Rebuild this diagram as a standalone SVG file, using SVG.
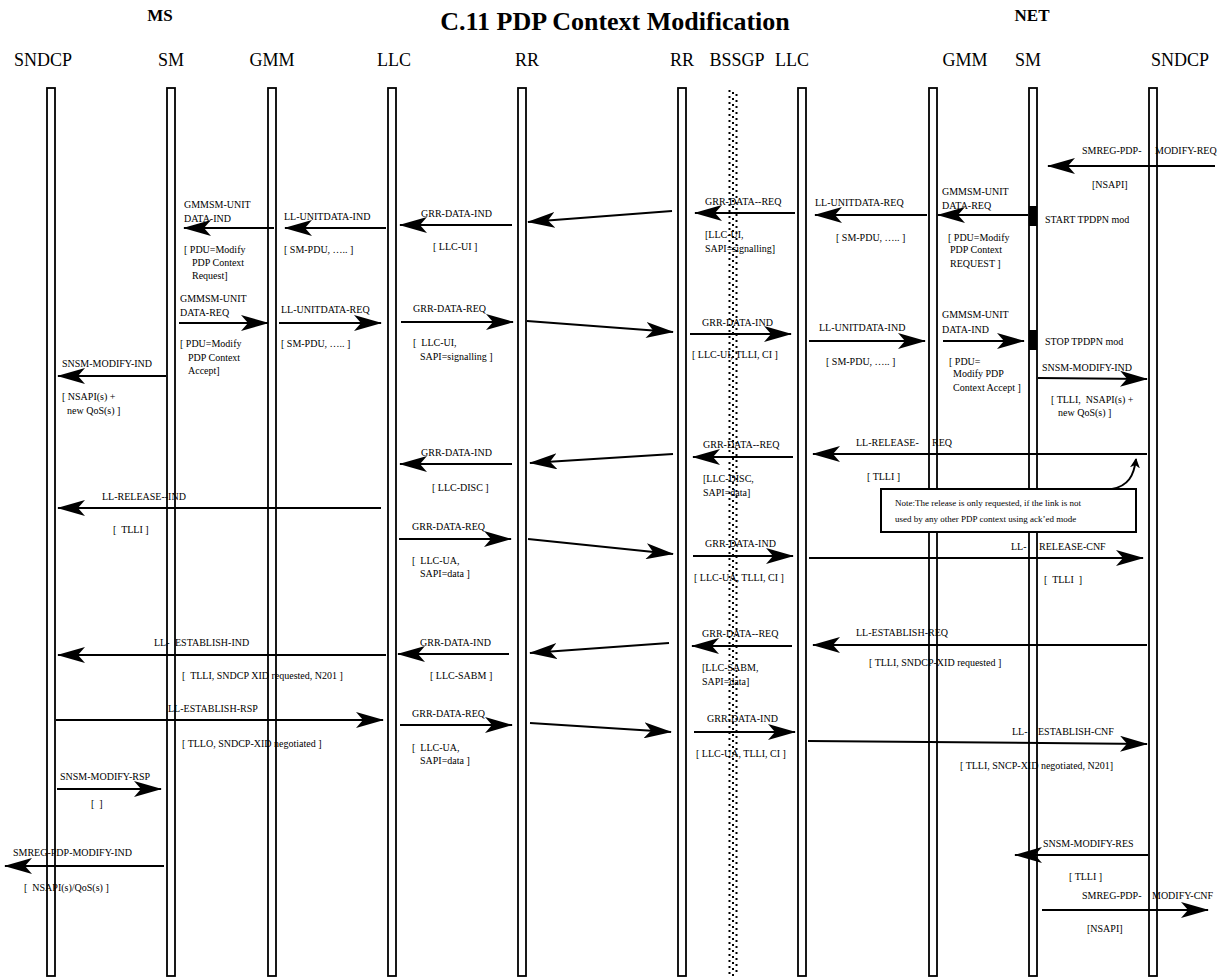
<svg xmlns="http://www.w3.org/2000/svg" width="1227" height="978" viewBox="0 0 1227 978">
<defs>
<marker id="ah" markerUnits="userSpaceOnUse" markerWidth="28" markerHeight="16" viewBox="0 0 28 16" refX="27" refY="8" orient="auto">
<path d="M28,8 L0,0 L7,8 L0,16 Z" fill="#000"/>
</marker>
<marker id="ahs" markerUnits="userSpaceOnUse" markerWidth="10" markerHeight="10" viewBox="0 0 10 10" refX="9" refY="5" orient="auto">
<path d="M10,5 L0,0 L3,5 L0,10 Z" fill="#000"/>
</marker>
<style>
.ll{fill:none;stroke:#000;stroke-width:1.8}
.hd{font-family:"Liberation Serif","Times New Roman",serif;font-size:18px;fill:#000;text-anchor:middle}
.tt{font-family:"Liberation Serif","Times New Roman",serif;font-weight:bold;fill:#000;text-anchor:middle}
.lb{font-family:"Liberation Serif","Times New Roman",serif;font-size:10px;fill:#000}
.nt{font-family:"Liberation Serif","Times New Roman",serif;font-size:9px;fill:#000}
.m{stroke:#000;stroke-width:2;fill:none;marker-end:url(#ah)}
.dot{stroke:#000;stroke-width:2;stroke-dasharray:2 4;fill:none}
</style>
</defs>
<rect x="0" y="0" width="1227" height="978" fill="#fff"/>
<text class="tt" x="615" y="30" font-size="26">C.11 PDP Context Modification</text>
<text class="tt" x="160" y="21" font-size="17">MS</text>
<text class="tt" x="1032" y="21" font-size="17">NET</text>

<g id="ms-sndcp"><text class="hd" x="43" y="66">SNDCP</text><rect class="ll" x="47" y="88" width="8" height="888"/></g>
<g id="ms-sm"><text class="hd" x="171" y="66">SM</text><rect class="ll" x="167" y="88" width="8" height="888"/></g>
<g id="ms-gmm"><text class="hd" x="272" y="66">GMM</text><rect class="ll" x="268" y="88" width="8" height="888"/></g>
<g id="ms-llc"><text class="hd" x="394" y="66">LLC</text><rect class="ll" x="388" y="88" width="8" height="888"/></g>
<g id="ms-rr"><text class="hd" x="527" y="66">RR</text><rect class="ll" x="518" y="88" width="8" height="888"/></g>
<g id="net-rr"><text class="hd" x="682" y="66">RR</text><rect class="ll" x="678" y="88" width="8" height="888"/></g>
<g id="net-bssgp"><text class="hd" x="737" y="66">BSSGP</text><line class="dot" x1="729.5" y1="90" x2="729.5" y2="976"/><line class="dot" x1="733" y1="92" x2="733" y2="976"/><line class="dot" x1="736.5" y1="94" x2="736.5" y2="976"/></g>
<g id="net-llc"><text class="hd" x="792" y="66">LLC</text><rect class="ll" x="798" y="88" width="8" height="888"/></g>
<g id="net-gmm"><text class="hd" x="965" y="66">GMM</text><rect class="ll" x="929" y="88" width="8" height="888"/></g>
<g id="net-sm"><text class="hd" x="1028" y="66">SM</text><rect class="ll" x="1029" y="88" width="8" height="888"/>
<rect x="1029" y="206" width="8" height="20" fill="#000"/><rect x="1029" y="330" width="8" height="20" fill="#000"/></g>
<g id="net-sndcp"><text class="hd" x="1180" y="66">SNDCP</text><rect class="ll" x="1149" y="88" width="8" height="888"/></g>

<g id="connectors">
<line class="m" x1="1215" y1="166" x2="1048" y2="166"/>
<line class="m" x1="1028" y1="215" x2="938" y2="215"/>
<line class="m" x1="927" y1="215" x2="815" y2="215"/>
<line class="m" x1="795" y1="213" x2="695" y2="213"/>
<line class="m" x1="672" y1="211" x2="528" y2="222"/>
<line class="m" x1="512" y1="225" x2="400" y2="225"/>
<line class="m" x1="386" y1="228" x2="285" y2="228"/>
<line class="m" x1="274" y1="228" x2="184" y2="228"/>
<line class="m" x1="179" y1="323" x2="268" y2="323"/>
<line class="m" x1="279" y1="323" x2="381" y2="323"/>
<line class="m" x1="401" y1="322" x2="513" y2="322"/>
<line class="m" x1="527" y1="321" x2="673" y2="332"/>
<line class="m" x1="690" y1="334" x2="791" y2="334"/>
<line class="m" x1="809" y1="341" x2="925" y2="341"/>
<line class="m" x1="943" y1="341" x2="1024" y2="341"/>
<line class="m" x1="1038" y1="378" x2="1147" y2="379"/>
<line class="m" x1="166" y1="376" x2="58" y2="376"/>
<line class="m" x1="1147" y1="454" x2="813" y2="454"/>
<line class="m" x1="793" y1="457" x2="693" y2="457"/>
<line class="m" x1="673" y1="454" x2="530" y2="463"/>
<line class="m" x1="512" y1="464" x2="400" y2="464"/>
<line class="m" x1="381" y1="508" x2="58" y2="508"/>
<line class="m" x1="399" y1="539" x2="511" y2="539"/>
<line class="m" x1="528" y1="539" x2="673" y2="554"/>
<line class="m" x1="693" y1="556" x2="793" y2="556"/>
<line class="m" x1="809" y1="558" x2="1143" y2="558"/>
<line class="m" x1="1147" y1="645" x2="813" y2="645"/>
<line class="m" x1="792" y1="646" x2="692" y2="646"/>
<line class="m" x1="669" y1="643" x2="530" y2="653"/>
<line class="m" x1="509" y1="654" x2="398" y2="654"/>
<line class="m" x1="386" y1="655" x2="58" y2="655"/>
<line class="m" x1="56" y1="720" x2="383" y2="720"/>
<line class="m" x1="400" y1="725" x2="512" y2="725"/>
<line class="m" x1="530" y1="723" x2="671" y2="732"/>
<line class="m" x1="694" y1="732" x2="795" y2="732"/>
<line class="m" x1="808" y1="741" x2="1147" y2="744"/>
<line class="m" x1="57" y1="789" x2="161" y2="789"/>
<line class="m" x1="1148" y1="855" x2="1015" y2="855"/>
<line class="m" x1="164" y1="866" x2="5" y2="866"/>
<line class="m" x1="1042" y1="910" x2="1208" y2="910"/>
<path d="M1112,489 C1128,486 1134,476 1136,459" fill="none" stroke="#000" stroke-width="2" marker-end="url(#ahs)"/>
</g>

<g id="note">
<rect x="881" y="489" width="255" height="43" fill="#fff" stroke="#000" stroke-width="2"/>
<text class="nt" x="895" y="506">Note:The release is only requested, if the link is not</text>
<text class="nt" x="895" y="522">used by any other PDP context using ack’ed mode</text>
</g>

<g id="labels" class="lb">
<text x="184" y="208">GMMSM-UNIT</text><text x="184" y="222">DATA-IND</text>
<text x="284" y="220">LL-UNITDATA-IND</text>
<text x="284" y="253">[ SM-PDU, ….. ]</text>
<text x="184" y="253">[ PDU=Modify</text><text x="192" y="266">PDP Context</text><text x="192" y="279">Request]</text>
<text x="180" y="302">GMMSM-UNIT</text><text x="180" y="316">DATA-REQ</text>
<text x="281" y="313">LL-UNITDATA-REQ</text>
<text x="281" y="347">[ SM-PDU, ….. ]</text>
<text x="180" y="347">[ PDU=Modify</text><text x="188" y="361">PDP Context</text><text x="188" y="374">Accept]</text>
<text x="62" y="367">SNSM-MODIFY-IND</text>
<text x="62" y="400">[ NSAPI(s) +</text><text x="67" y="414">new QoS(s) ]</text>

<text x="421" y="217">GRR-DATA-IND</text>
<text x="433" y="250">[ LLC-UI ]</text>
<text x="705" y="205">GRR-DATA--REQ</text>
<text x="705" y="238">[LLC-UI,</text><text x="705" y="252">SAPI=signalling]</text>
<text x="413" y="312">GRR-DATA-REQ</text>
<text x="413" y="346" xml:space="preserve">[  LLC-UI,</text><text x="420" y="360">SAPI=signalling ]</text>
<text x="702" y="326">GRR-DATA-IND</text>
<text x="692" y="358">[ LLC-UI, TLLI, CI ]</text>

<text y="154"><tspan x="1082">SMREG-PDP-</tspan><tspan x="1155">MODIFY-REQ</tspan></text>
<text x="1092" y="188">[NSAPI]</text>
<text x="815" y="206">LL-UNITDATA-REQ</text>
<text x="836" y="241">[ SM-PDU, ….. ]</text>
<text x="942" y="195">GMMSM-UNIT</text><text x="942" y="209">DATA-REQ</text>
<text x="1045" y="223">START TPDPN mod</text>
<text x="948" y="241">[ PDU=Modify</text><text x="950" y="253">PDP Context</text><text x="950" y="267">REQUEST ]</text>
<text x="819" y="331">LL-UNITDATA-IND</text>
<text x="826" y="365">[ SM-PDU, ….. ]</text>
<text x="942" y="318">GMMSM-UNIT</text><text x="942" y="333">DATA-IND</text>
<text x="1045" y="345">STOP TPDPN mod</text>
<text x="949" y="365">[ PDU=</text><text x="953" y="377">Modify PDP</text><text x="953" y="391">Context Accept ]</text>
<text x="1042" y="371">SNSM-MODIFY-IND</text>
<text x="1051" y="403" xml:space="preserve">[ TLLI,  NSAPI(s) +</text><text x="1058" y="416">new QoS(s) ]</text>

<text x="421" y="456">GRR-DATA-IND</text>
<text x="432" y="491">[ LLC-DISC ]</text>
<text x="703" y="448">GRR-DATA--REQ</text>
<text x="703" y="482">[LLC-DISC,</text><text x="703" y="496">SAPI=data]</text>
<text x="412" y="530">GRR-DATA-REQ</text>
<text x="412" y="564" xml:space="preserve">[  LLC-UA,</text><text x="420" y="577">SAPI=data ]</text>
<text x="705" y="547">GRR-DATA-IND</text>
<text x="694" y="581">[ LLC-UA, TLLI, CI ]</text>
<text x="420" y="646">GRR-DATA-IND</text>
<text x="430" y="679">[ LLC-SABM ]</text>
<text x="702" y="637">GRR-DATA--REQ</text>
<text x="702" y="671">[LLC-SABM,</text><text x="702" y="685">SAPI=data]</text>
<text x="412" y="717">GRR-DATA-REQ</text>
<text x="412" y="751" xml:space="preserve">[  LLC-UA,</text><text x="420" y="764">SAPI=data ]</text>
<text x="707" y="722">GRR-DATA-IND</text>
<text x="696" y="757">[ LLC-UA, TLLI, CI ]</text>

<text x="102" y="500">LL-RELEASE--IND</text>
<text x="113" y="533" xml:space="preserve">[  TLLI ]</text>
<text y="646"><tspan x="154">LL-</tspan><tspan x="175">ESTABLISH-IND</tspan></text>
<text x="182" y="679" xml:space="preserve">[  TLLI, SNDCP XID requested, N201 ]</text>
<text x="168" y="712">LL-ESTABLISH-RSP</text>
<text x="182" y="747">[ TLLO, SNDCP-XID negotiated ]</text>
<text x="60" y="780">SNSM-MODIFY-RSP</text>
<text x="91" y="807" xml:space="preserve">[  ]</text>
<text x="13" y="856">SMREG-PDP-MODIFY-IND</text>
<text x="24" y="891" xml:space="preserve">[  NSAPI(s)/QoS(s) ]</text>

<text y="446"><tspan x="856">LL-RELEASE-</tspan><tspan x="932">REQ</tspan></text>
<text x="867" y="480">[ TLLI ]</text>
<text y="550"><tspan x="1011">LL-</tspan><tspan x="1039">RELEASE-CNF</tspan></text>
<text x="1044" y="583" xml:space="preserve">[  TLLI  ]</text>
<text x="856" y="636">LL-ESTABLISH-REQ</text>
<text x="869" y="666">[ TLLI, SNDCP-XID requested ]</text>
<text y="735"><tspan x="1012">LL-</tspan><tspan x="1038">ESTABLISH-CNF</tspan></text>
<text x="960" y="769">[ TLLI, SNCP-XID negotiated, N201]</text>
<text x="1043" y="847">SNSM-MODIFY-RES</text>
<text x="1069" y="880">[ TLLI ]</text>
<text y="899"><tspan x="1082">SMREG-PDP-</tspan><tspan x="1152">MODIFY-CNF</tspan></text>
<text x="1087" y="932">[NSAPI]</text>
</g>
</svg>
